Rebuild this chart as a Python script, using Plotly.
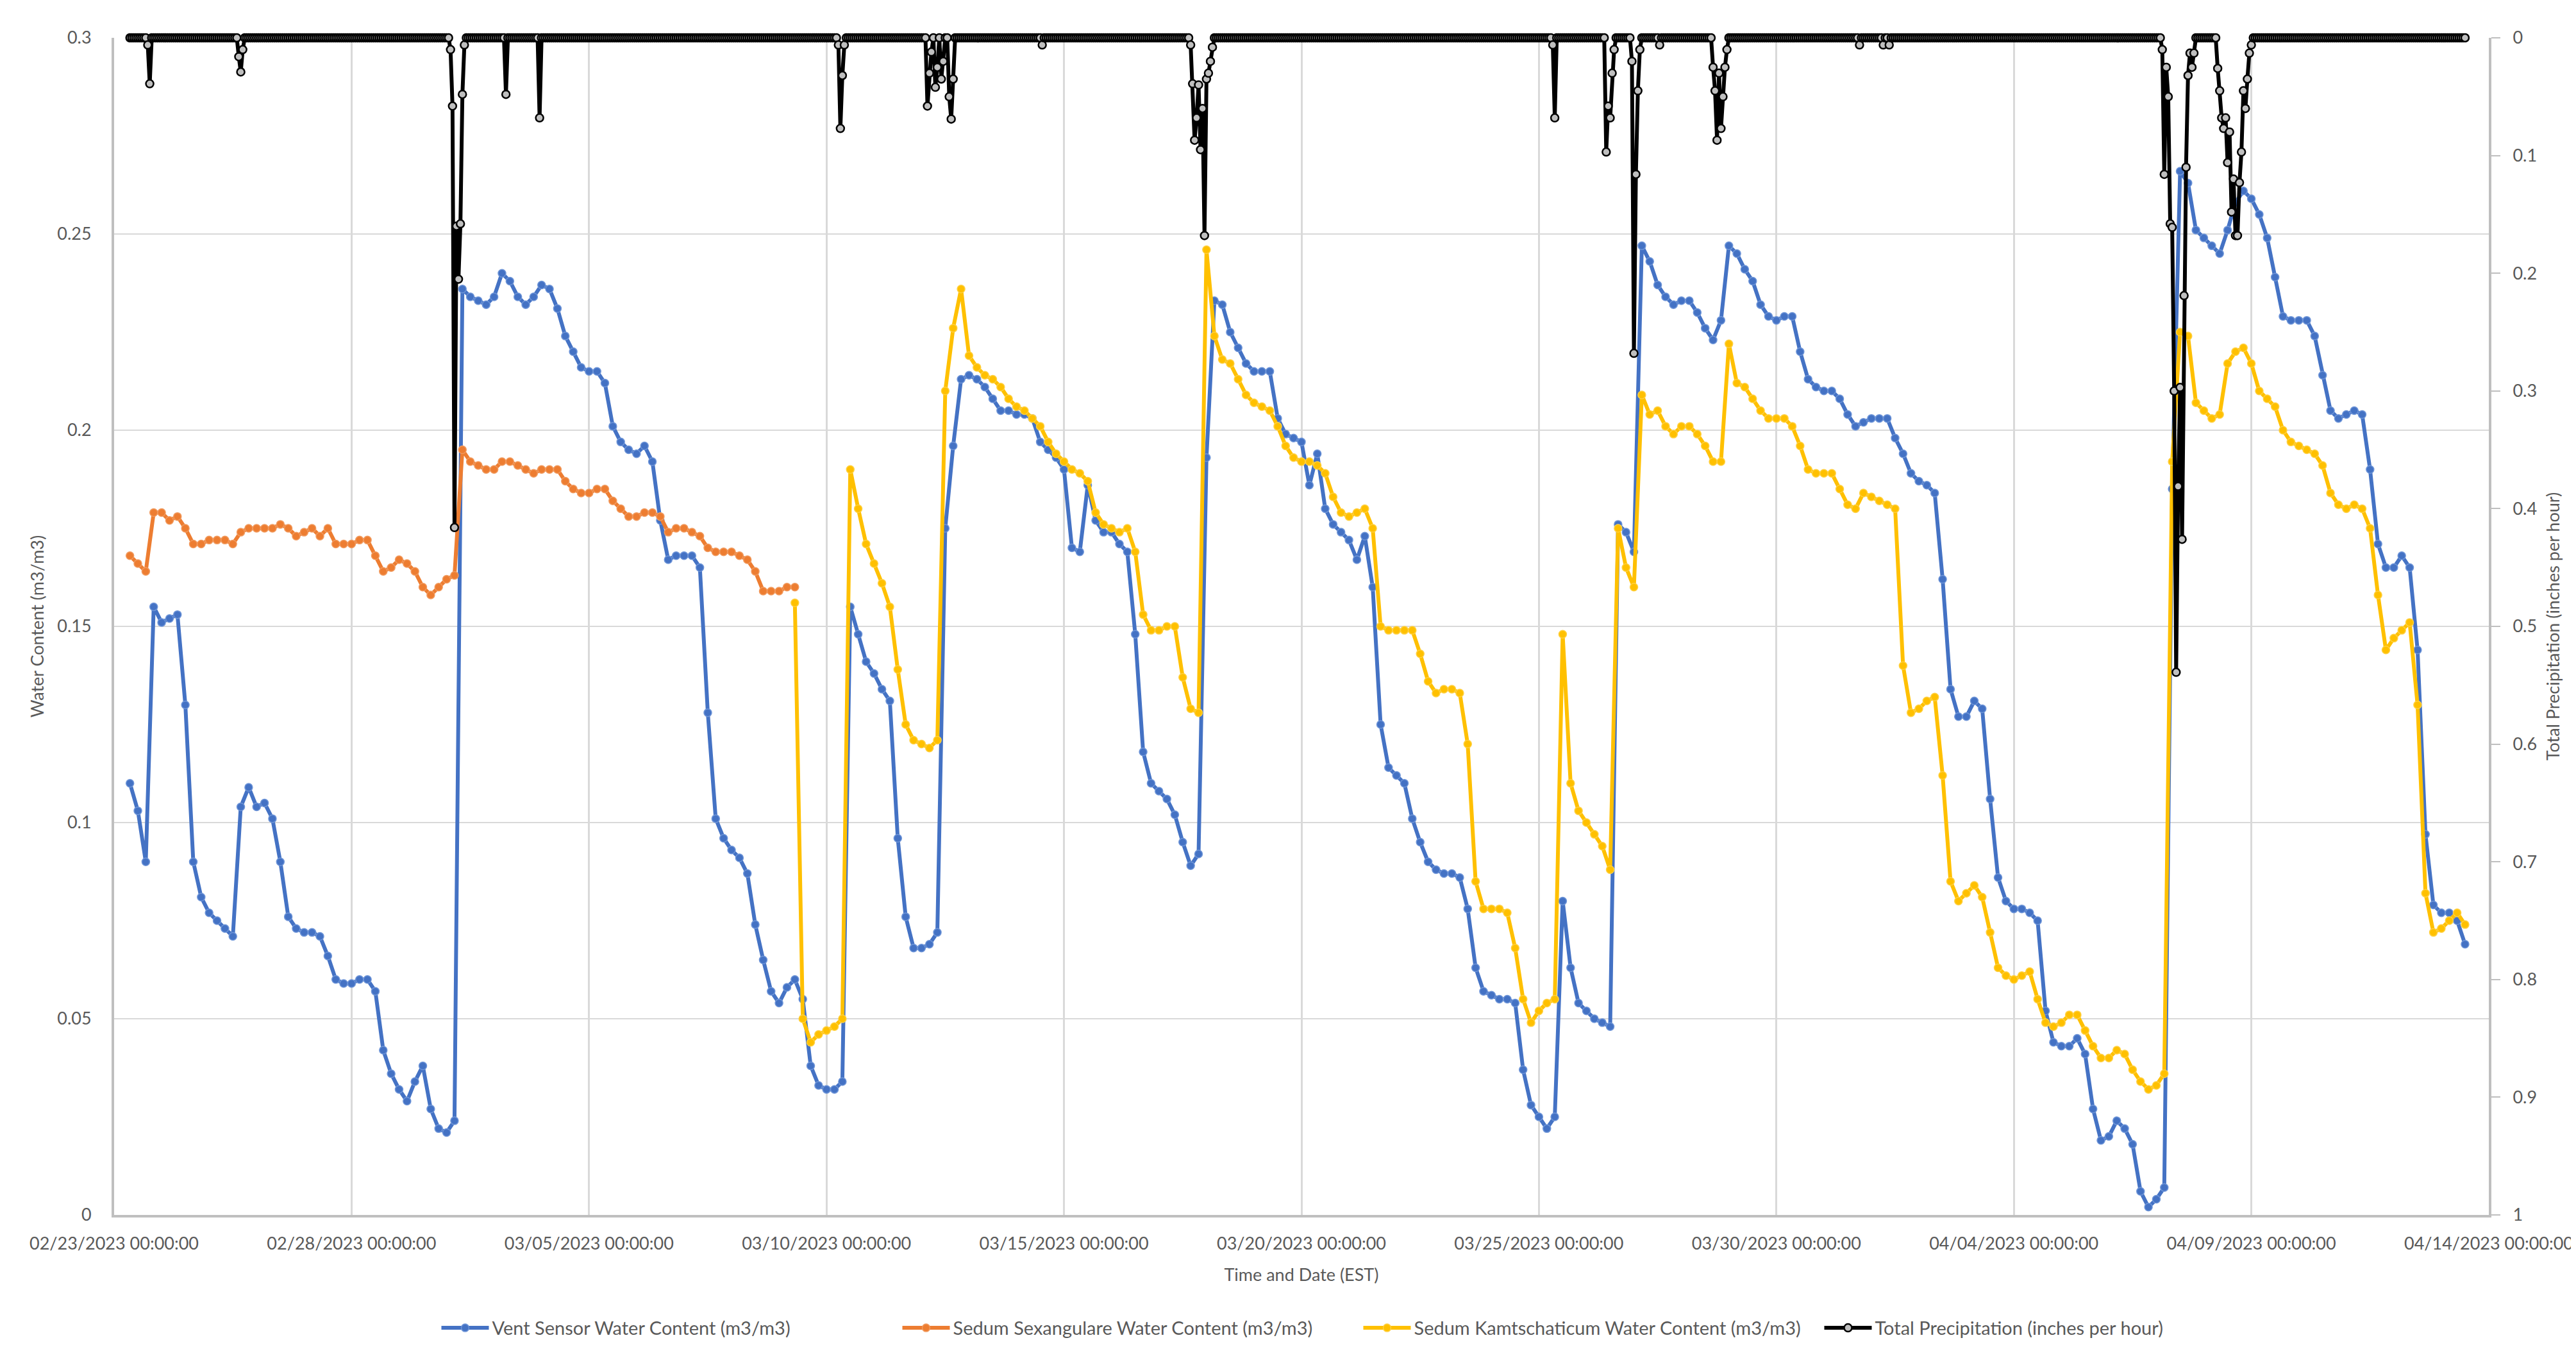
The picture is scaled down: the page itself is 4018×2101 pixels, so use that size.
import pandas as pd
import plotly.graph_objects as go

# ---------------- data ----------------
vent_start = "2023-02-23 08:00"          # 4-hour samples
vent_water = [
    0.110, 0.103, 0.090, 0.155,
    0.151, 0.152, 0.153, 0.130, 0.090, 0.081,
    0.077, 0.075, 0.073, 0.071, 0.104, 0.109,
    0.104, 0.105, 0.101, 0.090, 0.076, 0.073,
    0.072, 0.072, 0.071, 0.066, 0.060, 0.059,
    0.059, 0.060, 0.060, 0.057, 0.042, 0.036,
    0.032, 0.029, 0.034, 0.038, 0.027, 0.022,
    0.021, 0.024, 0.236, 0.234, 0.233, 0.232,
    0.234, 0.240, 0.238, 0.234, 0.232, 0.234,
    0.237, 0.236, 0.231, 0.224, 0.220, 0.216,
    0.215, 0.215, 0.212, 0.201, 0.197, 0.195,
    0.194, 0.196, 0.192, 0.177, 0.167, 0.168,
    0.168, 0.168, 0.165, 0.128, 0.101, 0.096,
    0.093, 0.091, 0.087, 0.074, 0.065, 0.057,
    0.054, 0.058, 0.060, 0.055, 0.038, 0.033,
    0.032, 0.032, 0.034, 0.155, 0.148, 0.141,
    0.138, 0.134, 0.131, 0.096, 0.076, 0.068,
    0.068, 0.069, 0.072, 0.175, 0.196, 0.213,
    0.214, 0.213, 0.211, 0.208, 0.205, 0.205,
    0.204, 0.204, 0.203, 0.197, 0.195, 0.193,
    0.190, 0.170, 0.169, 0.186, 0.177, 0.174,
    0.174, 0.171, 0.169, 0.148, 0.118, 0.110,
    0.108, 0.106, 0.102, 0.095, 0.089, 0.092,
    0.193, 0.233, 0.232, 0.225, 0.221, 0.217,
    0.215, 0.215, 0.215, 0.203, 0.199, 0.198,
    0.197, 0.186, 0.194, 0.180, 0.176, 0.174,
    0.172, 0.167, 0.173, 0.160, 0.125, 0.114,
    0.112, 0.110, 0.101, 0.095, 0.090, 0.088,
    0.087, 0.087, 0.086, 0.078, 0.063, 0.057,
    0.056, 0.055, 0.055, 0.054, 0.037, 0.028,
    0.025, 0.022, 0.025, 0.080, 0.063, 0.054,
    0.052, 0.050, 0.049, 0.048, 0.176, 0.174,
    0.169, 0.247, 0.243, 0.237, 0.234, 0.232,
    0.233, 0.233, 0.230, 0.226, 0.223, 0.228,
    0.247, 0.245, 0.241, 0.238, 0.232, 0.229,
    0.228, 0.229, 0.229, 0.220, 0.213, 0.211,
    0.210, 0.210, 0.208, 0.204, 0.201, 0.202,
    0.203, 0.203, 0.203, 0.198, 0.194, 0.189,
    0.187, 0.186, 0.184, 0.162, 0.134, 0.127,
    0.127, 0.131, 0.129, 0.106, 0.086, 0.080,
    0.078, 0.078, 0.077, 0.075, 0.052, 0.044,
    0.043, 0.043, 0.045, 0.041, 0.027, 0.019,
    0.020, 0.024, 0.022, 0.018, 0.006, 0.002,
    0.004, 0.007, 0.185, 0.266, 0.263, 0.251,
    0.249, 0.247, 0.245, 0.251, 0.258, 0.261,
    0.259, 0.255, 0.249, 0.239, 0.229, 0.228,
    0.228, 0.228, 0.224, 0.214, 0.205, 0.203,
    0.204, 0.205, 0.204, 0.190, 0.171, 0.165,
    0.165, 0.168, 0.165, 0.144, 0.097, 0.079,
    0.077, 0.077, 0.075, 0.069,
]

sexangulare_start = "2023-02-23 08:00"   # 4-hour samples
sexangulare_water = [
    0.168, 0.166, 0.164, 0.179,
    0.179, 0.177, 0.178, 0.175, 0.171, 0.171,
    0.172, 0.172, 0.172, 0.171, 0.174, 0.175,
    0.175, 0.175, 0.175, 0.176, 0.175, 0.173,
    0.174, 0.175, 0.173, 0.175, 0.171, 0.171,
    0.171, 0.172, 0.172, 0.168, 0.164, 0.165,
    0.167, 0.166, 0.164, 0.160, 0.158, 0.160,
    0.162, 0.163, 0.195, 0.192, 0.191, 0.190,
    0.190, 0.192, 0.192, 0.191, 0.190, 0.189,
    0.190, 0.190, 0.190, 0.187, 0.185, 0.184,
    0.184, 0.185, 0.185, 0.182, 0.180, 0.178,
    0.178, 0.179, 0.179, 0.178, 0.174, 0.175,
    0.175, 0.174, 0.173, 0.170, 0.169, 0.169,
    0.169, 0.168, 0.167, 0.164, 0.159, 0.159,
    0.159, 0.160, 0.160,
]

kamtschaticum_start = "2023-03-09 08:00"  # 4-hour samples
kamtschaticum_water = [
    0.156, 0.050, 0.044, 0.046,
    0.047, 0.048, 0.050, 0.190, 0.180, 0.171,
    0.166, 0.161, 0.155, 0.139, 0.125, 0.121,
    0.120, 0.119, 0.121, 0.210, 0.226, 0.236,
    0.219, 0.216, 0.214, 0.213, 0.211, 0.208,
    0.206, 0.205, 0.203, 0.201, 0.197, 0.194,
    0.192, 0.190, 0.189, 0.187, 0.179, 0.176,
    0.175, 0.174, 0.175, 0.169, 0.153, 0.149,
    0.149, 0.150, 0.150, 0.137, 0.129, 0.128,
    0.246, 0.224, 0.218, 0.217, 0.213, 0.209,
    0.207, 0.206, 0.205, 0.201, 0.196, 0.193,
    0.192, 0.192, 0.191, 0.189, 0.183, 0.179,
    0.178, 0.179, 0.180, 0.175, 0.150, 0.149,
    0.149, 0.149, 0.149, 0.143, 0.136, 0.133,
    0.134, 0.134, 0.133, 0.120, 0.085, 0.078,
    0.078, 0.078, 0.077, 0.068, 0.055, 0.049,
    0.052, 0.054, 0.055, 0.148, 0.110, 0.103,
    0.100, 0.097, 0.094, 0.088, 0.175, 0.165,
    0.160, 0.209, 0.204, 0.205, 0.201, 0.199,
    0.201, 0.201, 0.199, 0.196, 0.192, 0.192,
    0.222, 0.212, 0.211, 0.208, 0.205, 0.203,
    0.203, 0.203, 0.201, 0.196, 0.190, 0.189,
    0.189, 0.189, 0.185, 0.181, 0.180, 0.184,
    0.183, 0.182, 0.181, 0.180, 0.140, 0.128,
    0.129, 0.131, 0.132, 0.112, 0.085, 0.080,
    0.082, 0.084, 0.081, 0.072, 0.063, 0.061,
    0.060, 0.061, 0.062, 0.055, 0.049, 0.048,
    0.049, 0.051, 0.051, 0.047, 0.043, 0.040,
    0.040, 0.042, 0.041, 0.037, 0.034, 0.032,
    0.033, 0.036, 0.192, 0.225, 0.224, 0.207,
    0.205, 0.203, 0.204, 0.217, 0.220, 0.221,
    0.217, 0.210, 0.208, 0.206, 0.200, 0.197,
    0.196, 0.195, 0.194, 0.191, 0.184, 0.181,
    0.180, 0.181, 0.180, 0.175, 0.158, 0.144,
    0.147, 0.149, 0.151, 0.130, 0.082, 0.072,
    0.073, 0.075, 0.077, 0.074,
]

# hourly precipitation: zero except for the listed hours
precip_start = "2023-02-23 08:00"
precip_end = "2023-04-13 12:00"
precip_events = {
    "2023-02-23 17:00": 0.006, "2023-02-23 18:00": 0.039,
    "2023-02-25 15:00": 0.016, "2023-02-25 16:00": 0.029, "2023-02-25 17:00": 0.010,
    "2023-03-02 02:00": 0.010, "2023-03-02 03:00": 0.058, "2023-03-02 04:00": 0.416,
    "2023-03-02 05:00": 0.160, "2023-03-02 06:00": 0.205, "2023-03-02 07:00": 0.158,
    "2023-03-02 08:00": 0.048, "2023-03-02 09:00": 0.006,
    "2023-03-03 06:00": 0.048, "2023-03-03 23:00": 0.068,
    "2023-03-10 06:00": 0.006, "2023-03-10 07:00": 0.077, "2023-03-10 08:00": 0.032,
    "2023-03-10 09:00": 0.006,
    "2023-03-12 03:00": 0.058, "2023-03-12 04:00": 0.030, "2023-03-12 05:00": 0.012,
    "2023-03-12 07:00": 0.042, "2023-03-12 08:00": 0.025, "2023-03-12 10:00": 0.035,
    "2023-03-12 11:00": 0.020, "2023-03-12 14:00": 0.050, "2023-03-12 15:00": 0.069,
    "2023-03-12 16:00": 0.035,
    "2023-03-14 13:00": 0.006,
    "2023-03-17 16:00": 0.006, "2023-03-17 17:00": 0.039, "2023-03-17 18:00": 0.087,
    "2023-03-17 19:00": 0.068, "2023-03-17 20:00": 0.040, "2023-03-17 21:00": 0.095,
    "2023-03-17 22:00": 0.060, "2023-03-17 23:00": 0.168, "2023-03-18 00:00": 0.035,
    "2023-03-18 01:00": 0.030, "2023-03-18 02:00": 0.020, "2023-03-18 03:00": 0.008,
    "2023-03-25 07:00": 0.006, "2023-03-25 08:00": 0.068,
    "2023-03-26 10:00": 0.097, "2023-03-26 11:00": 0.058, "2023-03-26 12:00": 0.068,
    "2023-03-26 13:00": 0.030, "2023-03-26 14:00": 0.010,
    "2023-03-26 23:00": 0.020, "2023-03-27 00:00": 0.268, "2023-03-27 01:00": 0.116,
    "2023-03-27 02:00": 0.045, "2023-03-27 03:00": 0.010,
    "2023-03-27 13:00": 0.006,
    "2023-03-28 16:00": 0.025, "2023-03-28 17:00": 0.045, "2023-03-28 18:00": 0.087,
    "2023-03-28 19:00": 0.030, "2023-03-28 20:00": 0.077, "2023-03-28 21:00": 0.050,
    "2023-03-28 22:00": 0.025, "2023-03-28 23:00": 0.010,
    "2023-03-31 18:00": 0.006, "2023-04-01 06:00": 0.006, "2023-04-01 09:00": 0.006,
    "2023-04-07 03:00": 0.010, "2023-04-07 04:00": 0.116, "2023-04-07 05:00": 0.025,
    "2023-04-07 06:00": 0.050, "2023-04-07 07:00": 0.158, "2023-04-07 08:00": 0.161,
    "2023-04-07 09:00": 0.300, "2023-04-07 10:00": 0.539, "2023-04-07 11:00": 0.381,
    "2023-04-07 12:00": 0.297, "2023-04-07 13:00": 0.426, "2023-04-07 14:00": 0.219,
    "2023-04-07 15:00": 0.110, "2023-04-07 16:00": 0.032, "2023-04-07 17:00": 0.013,
    "2023-04-07 18:00": 0.025, "2023-04-07 19:00": 0.013,
    "2023-04-08 07:00": 0.026, "2023-04-08 08:00": 0.045, "2023-04-08 09:00": 0.068,
    "2023-04-08 10:00": 0.077, "2023-04-08 11:00": 0.068, "2023-04-08 12:00": 0.106,
    "2023-04-08 13:00": 0.080, "2023-04-08 14:00": 0.148, "2023-04-08 15:00": 0.120,
    "2023-04-08 16:00": 0.168, "2023-04-08 17:00": 0.168, "2023-04-08 18:00": 0.123,
    "2023-04-08 19:00": 0.097, "2023-04-08 20:00": 0.045, "2023-04-08 21:00": 0.060,
    "2023-04-08 22:00": 0.035, "2023-04-08 23:00": 0.013, "2023-04-09 00:00": 0.006,
}

series_names = [
    "Vent Sensor Water Content (m3/m3)",
    "Sedum Sexangulare Water Content (m3/m3)",
    "Sedum Kamtschaticum Water Content (m3/m3)",
    "Total Precipitation (inches per hour)",
]
left_ticks = [0, 0.05, 0.1, 0.15, 0.2, 0.25, 0.3]
right_ticks = [0, 0.1, 0.2, 0.3, 0.4, 0.5, 0.6, 0.7, 0.8, 0.9, 1]

# ---------------- build ----------------
vent_t = pd.date_range(vent_start, periods=len(vent_water), freq="4h")
sex_t = pd.date_range(sexangulare_start, periods=len(sexangulare_water), freq="4h")
kam_t = pd.date_range(kamtschaticum_start, periods=len(kamtschaticum_water), freq="4h")
precip_t = pd.date_range(precip_start, precip_end, freq="1h")
precip = pd.Series(0.0, index=precip_t)
for k, v in precip_events.items():
    precip[pd.Timestamp(k)] = v

FONT = "Lato, 'Liberation Sans', Arial, sans-serif"
GRAY = "#595959"

fig = go.Figure()
fig.add_trace(go.Scatter(
    x=vent_t, y=vent_water, name=series_names[0], mode="lines+markers",
    line=dict(color="#4472C4", width=6),
    marker=dict(symbol="circle", size=12, color="#4472C4", line=dict(color="#6E95D8", width=1.5)),
))
fig.add_trace(go.Scatter(
    x=sex_t, y=sexangulare_water, name=series_names[1], mode="lines+markers",
    line=dict(color="#ED7D31", width=6),
    marker=dict(symbol="circle", size=12, color="#ED7D31", line=dict(color="#F19A5E", width=1.5)),
))
fig.add_trace(go.Scatter(
    x=kam_t, y=kamtschaticum_water, name=series_names[2], mode="lines+markers",
    line=dict(color="#FFC000", width=6),
    marker=dict(symbol="circle", size=12, color="#FFC000", line=dict(color="#FFD040", width=1.5)),
))
fig.add_trace(go.Scatter(
    x=precip.index, y=precip.values, name=series_names[3], mode="lines+markers",
    yaxis="y2", cliponaxis=False,
    line=dict(color="#000000", width=6),
    marker=dict(symbol="circle", size=12, color="#BFBFBF", line=dict(color="#000000", width=2.5)),
))

fig.update_layout(
    width=4018, height=2101,
    paper_bgcolor="white", plot_bgcolor="white",
    margin=dict(l=170, r=125, t=51, b=199),
    font=dict(family=FONT, size=27, color=GRAY),
    showlegend=True,
    legend=dict(
        orientation="h", x=0.5247, xanchor="center", y=-0.096, yanchor="middle",
        font=dict(family=FONT, size=29, color=GRAY), itemwidth=74,
        entrywidth=630, entrywidthmode="pixels",
        bgcolor="rgba(0,0,0,0)",
    ),
    xaxis=dict(
        type="date",
        range=["2023-02-23 00:00", "2023-04-14 00:00"],
        tick0="2023-02-23 00:00", dtick=5 * 86400000,
        tickformat="%m/%d/%Y %H:%M:%S",
        ticklabeloverflow="allow",
        showgrid=True, gridcolor="#D9D9D9", gridwidth=3,
        showline=True, linecolor="#BFBFBF", linewidth=4,
        ticks="", ticklabelstandoff=18,
        tickfont=dict(family=FONT, size=27, color=GRAY),
        title=dict(text="Time and Date (EST)", standoff=26,
                   font=dict(family=FONT, size=27, color=GRAY)),
        zeroline=False,
    ),
    yaxis=dict(
        range=[0, 0.3], tickvals=left_ticks,
        ticktext=[f"{v:g}" for v in left_ticks],
        showgrid=True, gridcolor="#D9D9D9", gridwidth=2,
        showline=True, linecolor="#BFBFBF", linewidth=4,
        ticks="", ticklabelstandoff=26,
        tickfont=dict(family=FONT, size=27, color=GRAY),
        title=dict(text="Water Content (m3/m3)", standoff=14,
                   font=dict(family=FONT, size=27, color=GRAY)),
        zeroline=False,
    ),
    yaxis2=dict(
        overlaying="y", side="right",
        range=[1, 0], tickvals=right_ticks,
        ticktext=[f"{v:g}" for v in right_ticks],
        showgrid=False,
        showline=True, linecolor="#BFBFBF", linewidth=4,
        ticks="outside", ticklen=14, tickcolor="#BFBFBF", tickwidth=2,
        ticklabelstandoff=14,
        tickfont=dict(family=FONT, size=27, color=GRAY),
        title=dict(text="Total Precipitation (inches per hour)", standoff=18,
                   font=dict(family=FONT, size=27, color=GRAY)),
        zeroline=False,
    ),
)

fig.write_html("out.html")
